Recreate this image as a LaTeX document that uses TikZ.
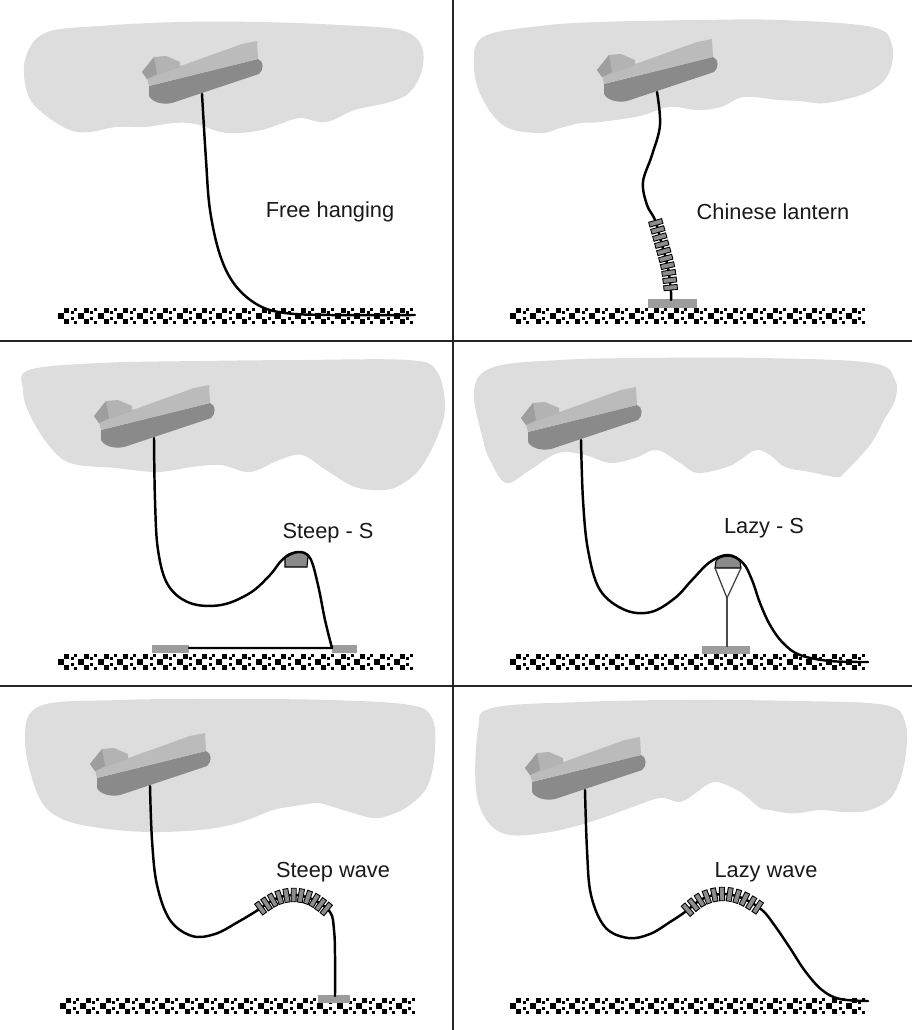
\documentclass[tikz,border=0pt]{standalone}
\usepackage{fontspec}
\setmainfont{Liberation Sans}
\usetikzlibrary{decorations.markings}

\definecolor{seagray}{HTML}{DDDDDD}
\definecolor{deckgray}{HTML}{BBBBBB}
\definecolor{hullgray}{HTML}{8A8A8A}
\definecolor{bridgegray}{HTML}{B3B3B3}
\definecolor{facegray}{HTML}{9E9E9E}
\definecolor{floatgray}{HTML}{8C8C8C}
\definecolor{plategray}{HTML}{9C9C9C}

\begin{document}
\begin{tikzpicture}[x=0.02cm, y=-0.02cm,
  seafill/.style={fill=seagray},
  riser/.style={line width=1.4pt, line join=round, line cap=round},
  divider/.style={line width=1.1pt, draw=black!85},
  caption/.style={font=\fontsize{12.4pt}{15pt}\selectfont, text=black!90, inner sep=0pt},
  plate/.style={fill=plategray},
  floatmodules/.style={postaction={decorate, decoration={markings,
      mark=between positions 0.04 and 0.96 step #1 with {
        \filldraw[fill=floatgray, draw=black, line width=0.5pt]
          (-0.05cm,-0.135cm) rectangle (0.05cm,0.135cm);}}}},
  ship/.pic={
    % lower hull
    \fill[hullgray] (-53,-8) -- (56,-35) .. controls (62,-33) and (62,-24) .. (57,-20)
      -- (-30,9) .. controls (-40,11) and (-50,8) .. (-53,2) -- cycle;
    % deck band
    \fill[deckgray] (-55,-16) -- (40,-50) -- (55,-53) -- (56,-35) -- (-53,-8) -- cycle;
    % bridge
    \fill[bridgegray] (-60,-22) -- (-48,-37) -- (-36,-38) -- (-22,-32) -- (-22,-27) -- (-55,-15) -- cycle;
    \fill[facegray] (-60,-22) -- (-48,-37) -- (-45,-20) -- (-55,-15) -- cycle;
  },
  seabed/.pic={
    \foreach \i in {0,...,17}{
      \fill (\i*19.75,6) rectangle ++(6,6);
      \fill (\i*19.75+6,1) rectangle ++(5,5);
      \fill (\i*19.75+6,12) rectangle ++(5,5);
      \fill (\i*19.75+12.5,4) rectangle ++(3,3);
      \fill (\i*19.75+12.5,10) rectangle ++(3,3);
      \fill (\i*19.75+16,1) rectangle ++(3,3);
      \fill (\i*19.75+16,14) rectangle ++(3,3);
    }
  }
]
\useasboundingbox (0,0) rectangle (912,1030);

% ---------- sea areas ----------
\fill[seafill] plot[smooth cycle, tension=0.6] coordinates {(25,60) (45,33) (100,26) (180,22) (260,22) (340,25) (400,30) (421,45) (422,70) (410,92) (390,102) (355,110) (326,122) (300,118) (280,124) (262,130) (240,133) (221,132) (195,124) (174,123) (145,127) (116,127) (90,132) (70,130) (45,115) (28,95)};
\fill[seafill] plot[smooth cycle, tension=0.6] coordinates {(474,67) (483,37) (540,26) (600,22) (700,20) (780,20) (872,27) (892,45) (888,75) (866,93) (826,103) (800,101) (779,100) (744,97) (721,107) (698,110) (669,107) (640,116) (600,122) (581,123) (560,128) (541,133) (506,127) (483,100)};
\fill[seafill] plot[smooth cycle, tension=0.6] coordinates {(23,390) (29,370) (100,363) (200,361) (300,360) (407,360) (436,370) (445,407) (436,440) (419,470) (400,485) (384,490) (355,487) (326,470) (302,455) (279,460) (250,472) (221,465) (192,467) (157,472) (116,468) (70,463) (47,443) (29,413)};
\fill[seafill] plot[smooth cycle, tension=0.6] coordinates {(474,390) (494,367) (560,360) (640,358) (760,358) (872,363) (895,380) (895,400) (884,420) (870,445) (845,472) (837,477) (810,472) (785,467) (770,455) (756,450) (740,460) (727,467) (698,473) (680,463) (657,450) (635,458) (610,463) (585,455) (558,453) (530,470) (506,483) (490,460) (483,440)};
\fill[seafill] plot[smooth cycle, tension=0.6] coordinates {(25,740) (40,706) (120,700) (220,699) (330,700) (410,705) (432,718) (435,750) (428,785) (410,805) (390,815) (373,818) (350,812) (330,806) (317,803) (295,806) (273,810) (250,819) (230,825) (200,830) (150,832) (100,828) (60,818) (38,795)};
\fill[seafill] plot[smooth cycle, tension=0.6] coordinates {(478,730) (492,708) (580,702) (680,700) (800,701) (885,705) (905,722) (905,760) (893,795) (870,810) (845,812) (820,810) (800,813) (787,813) (770,810) (760,808) (748,798) (737,790) (717,782) (705,786) (697,792) (680,802) (660,798) (630,808) (590,822) (550,832) (510,835) (488,822) (476,790)};

% ---------- vessels ----------
\pic at (202,94) {ship};
\pic at (657,92) {ship};
\pic at (154,438) {ship};
\pic at (581,440) {ship};
\pic at (150,786) {ship};
\pic at (585,790) {ship};

% ---------- seabeds ----------
\pic at (58,307) {seabed};
\pic at (510,307) {seabed};
\pic at (58,653) {seabed};
\pic at (510,653) {seabed};
\pic at (60,997) {seabed};
\pic at (510,997) {seabed};

% ---------- free hanging ----------
\draw[riser] plot[smooth, tension=0.6] coordinates {(202,94) (206,160) (210,210) (220,255) (235,285) (258,305) (285,313) (330,315) (415,315)};

% ---------- chinese lantern ----------
\fill[plate] (648,299) rectangle (697,308);
\draw[riser] plot[smooth, tension=0.6] coordinates {(657,92) (660,125) (652,155) (643,182) (647,205) (655,220) (662,245) (668,268) (671,292) (671,300)};
\path[floatmodules=0.1] plot[smooth, tension=0.6] coordinates {(655,220) (662,245) (668,268) (671,292)};

% ---------- steep S ----------
\fill[plate] (152,645) rectangle (189,653);
\fill[plate] (332,645) rectangle (357,653);
\filldraw[fill=hullgray, draw=black, line width=0.6pt] (285,567) -- (285,557) .. controls (289,551) and (303,550) .. (308,556) -- (307,567) -- cycle;
\draw[riser] plot[smooth, tension=0.6] coordinates {(154,438) (155,500) (158,550) (168,585) (190,603) (221,605) (250,593) (270,575) (283,559) (298,552) (310,558) (318,585) (325,620) (332,648)} -- (189,648);

% ---------- lazy S ----------
\fill[plate] (702,646) rectangle (750,654);
\draw[draw=black!70, line width=0.6pt] (727,598) -- (727,647);
\filldraw[fill=hullgray, draw=black, line width=0.6pt] (715,568) -- (716,561) .. controls (720,555) and (735,554) .. (740,562) -- (741,568) -- cycle;
\draw[draw=black!75, line width=0.7pt] (715,568) -- (727,598) -- (741,568);
\draw[riser] plot[smooth, tension=0.6] coordinates {(581,440) (583,500) (588,550) (600,590) (625,610) (651,612) (675,598) (692,580) (710,562) (728,555) (743,563) (752,580) (760,603) (770,625) (783,643) (800,655) (830,661) (868,662)};

% ---------- steep wave ----------
\fill[plate] (318,995) rectangle (350,1003);
\draw[riser] plot[smooth, tension=0.6] coordinates {(150,786) (152,840) (157,885) (170,920) (192,936) (215,934) (238,922) (258,910) (275,899) (293,895) (312,899) (330,912) (334,930) (335,955) (335,996)};
\path[floatmodules=0.09] plot[smooth, tension=0.6] coordinates {(258,910) (275,899) (293,895) (312,899) (330,912)};

% ---------- lazy wave ----------
\draw[riser] plot[smooth, tension=0.6] coordinates {(585,790) (587,850) (591,895) (605,927) (628,938) (650,934) (670,922) (685,912) (702,899) (722,894) (742,898) (762,910) (775,926) (790,948) (805,971) (822,990) (840,999) (868,1001)};
\path[floatmodules=0.09] plot[smooth, tension=0.6] coordinates {(685,912) (702,899) (722,894) (742,898) (762,910)};

% ---------- captions ----------
\node[caption] (lblfree) at (330,212) {Free hanging};
\node[caption] (lbllantern) at (773,212) {Chinese lantern};
\node[caption] (lblsteeps) at (328,533) {Steep - S};
\node[caption] (lbllazys) at (764,528) {Lazy - S};
\node[caption] (lblsteepw) at (333,872) {Steep wave};
\node[caption] (lbllazyw) at (766,872) {Lazy wave};

% ---------- panel dividers ----------
\draw[divider] (453,0) -- (453,1030);
\draw[divider] (0,341) -- (912,341);
\draw[divider] (0,686) -- (912,686);
\end{tikzpicture}
\end{document}
